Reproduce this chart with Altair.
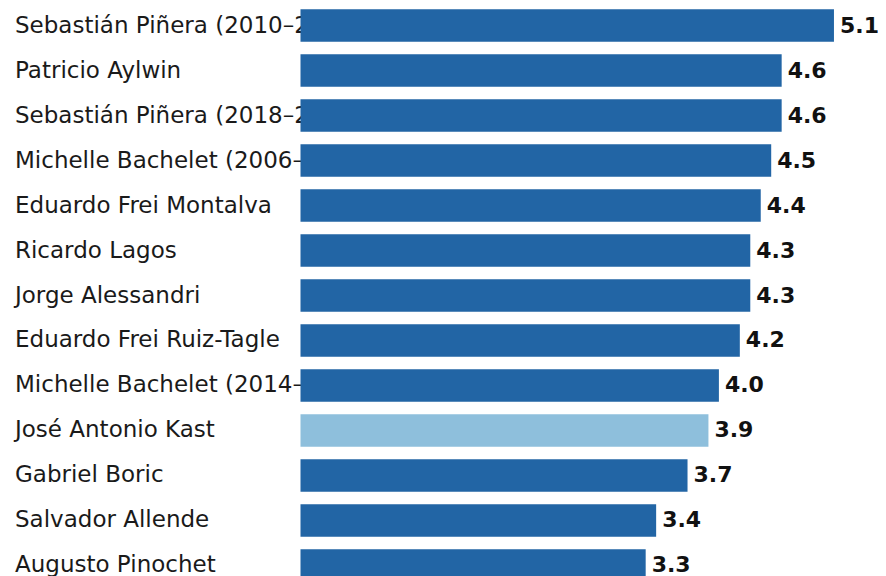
import altair as alt
import pandas as pd

names = [
    "Sebastián Piñera (2010–2014)",
    "Patricio Aylwin",
    "Sebastián Piñera (2018–2022)",
    "Michelle Bachelet (2006–2010)",
    "Eduardo Frei Montalva",
    "Ricardo Lagos",
    "Jorge Alessandri",
    "Eduardo Frei Ruiz-Tagle",
    "Michelle Bachelet (2014–2018)",
    "José Antonio Kast",
    "Gabriel Boric",
    "Salvador Allende",
    "Augusto Pinochet",
]
values = [5.1, 4.6, 4.6, 4.5, 4.4, 4.3, 4.3, 4.2, 4.0, 3.9, 3.7, 3.4, 3.3]
highlight = ["José Antonio Kast"]

df = pd.DataFrame({
    "name": names,
    "value": values,
    "label": [f"{v:.1f}" for v in values],
    "group": ["hl" if n in highlight else "base" for n in names],
})

W, H = 870, 568
x_scale = alt.Scale(domain=[-2.7964, 5.5210], range=[0, W], zero=False, nice=False)
y_enc = alt.Y("name:N", sort=names, axis=None,
              scale=alt.Scale(range=[0, 575], paddingInner=0.28, paddingOuter=0.029))

base = alt.Chart(df)

name_text = base.mark_text(
    align="left", baseline="middle", font="DejaVu Sans", fontSize=23, color="#1a1a1a"
).encode(x=alt.value(7), y=y_enc, text="name:N")

bars = base.mark_bar(clip=True).encode(
    x=alt.X("value:Q", scale=x_scale, axis=None),
    x2=alt.datum(0),
    y=y_enc,
    color=alt.Color("group:N", legend=None,
                    scale=alt.Scale(domain=["base", "hl"], range=["#2265a5", "#8ebfdc"])),
)

value_text = base.mark_text(
    align="left", baseline="middle", dx=6, font="DejaVu Sans", fontSize=22,
    fontWeight="bold", color="#111111"
).encode(x=alt.X("value:Q", scale=x_scale, axis=None), y=y_enc, text="label:N")

chart = alt.layer(name_text, bars, value_text).properties(
    width=W, height=H,
    autosize=alt.AutoSizeParams(type="none"),
    padding={"left": 0, "top": 0, "right": 0, "bottom": 0},
).configure_view(stroke=None)

chart.save("out.html", embed_options={"renderer": "svg", "actions": False})
